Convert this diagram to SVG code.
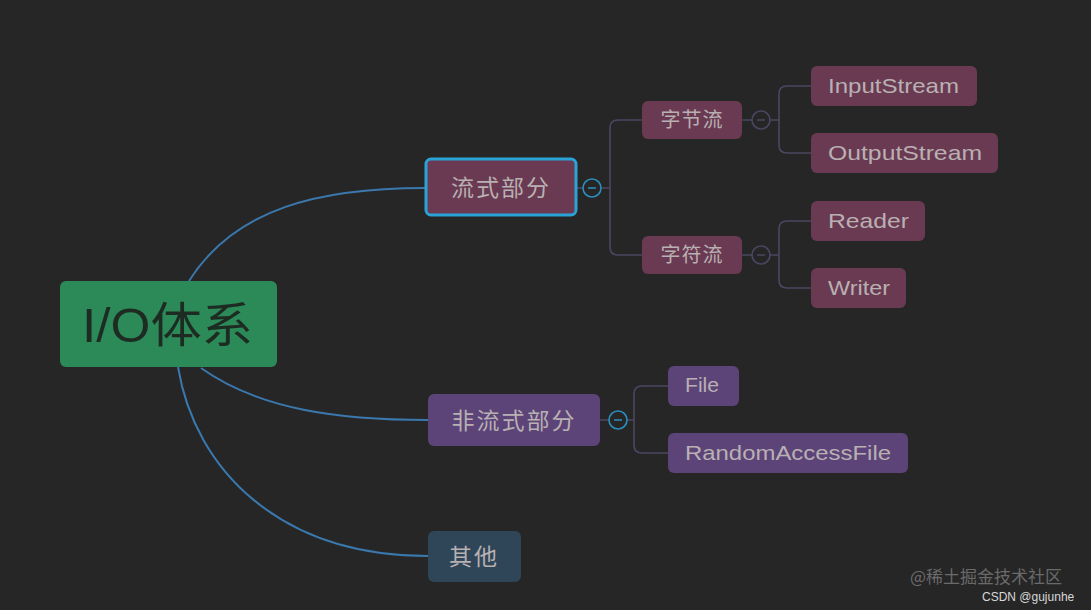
<svg xmlns="http://www.w3.org/2000/svg" width="1091" height="610" viewBox="0 0 1091 610">
<style>
.bg{fill:#262626}
.main{fill:none;stroke:#3a78ad;stroke-width:2}
.sub{fill:none;stroke:#4b4762;stroke-width:1.6}
.cn{font-family:"Noto Sans CJK SC","Noto Sans",sans-serif;fill:#b9b0b2;text-anchor:middle}
.en{font-family:"Liberation Sans","Noto Sans",sans-serif;fill:#b9b0b2;font-size:21px}
.maroon{fill:#6a3a52}
.purple{fill:#5c4479}
.col{fill:#262626;stroke-width:1.6}
</style>
<rect class="bg" x="0" y="0" width="1091" height="610"/>
<g id="connectors">
<path class="main" d="M189,281 C235,208 320,188 425,188"/>
<path class="main" d="M201,368 C260,410 340,420 428,420"/>
<path class="main" d="M178,367 C195,470 280,556 428,556"/>
<path class="sub" d="M576,188 H583"/>
<path class="sub" d="M601,188 H610 M642,120 H618 Q610,120 610,128 V247 Q610,255 618,255 H642"/>
<path class="sub" d="M742,120 H752 M770,120 H779 M811,86 H787 Q779,86 779,94 V145 Q779,153 787,153 H811"/>
<path class="sub" d="M742,255 H752 M770,255 H779 M811,221 H787 Q779,221 779,229 V280 Q779,288 787,288 H811"/>
<path class="sub" d="M600,420 H609 M627,420 H634 M668,386 H642 Q634,386 634,394 V445 Q634,453 642,453 H668"/>
<circle class="col" cx="592" cy="188" r="9" stroke="#2c8fbf"/>
<path d="M588,188 H596" stroke="#2c8fbf" stroke-width="1.5"/>
<circle class="col" cx="761" cy="120" r="9" stroke="#4b4762"/>
<path d="M757,120 H765" stroke="#4b4762" stroke-width="1.5"/>
<circle class="col" cx="761" cy="255" r="9" stroke="#4b4762"/>
<path d="M757,255 H765" stroke="#4b4762" stroke-width="1.5"/>
<circle class="col" cx="618" cy="420" r="9" stroke="#2c8fbf"/>
<path d="M614,420 H622" stroke="#2c8fbf" stroke-width="1.5"/>
</g>
<g id="root">
<rect x="60" y="281" width="217" height="86" rx="6" fill="#2b8a57"/>
<text x="82" y="342" font-family="Liberation Sans,'Noto Sans CJK SC',sans-serif" font-size="48" fill="#1d2b22" textLength="171" lengthAdjust="spacingAndGlyphs">I/O体系</text>
</g>
<g id="n-stream">
<rect class="maroon" x="426" y="159" width="150" height="56" rx="5" stroke="#2aa3d6" stroke-width="3"/>
<text class="cn" x="501" y="196" font-size="23" letter-spacing="2">流式部分</text>
</g>
<g id="n-byte">
<rect class="maroon" x="642" y="101" width="100" height="38" rx="6"/>
<text class="cn" x="692" y="127" font-size="20" letter-spacing="1">字节流</text>
</g>
<g id="n-char">
<rect class="maroon" x="642" y="236" width="100" height="38" rx="6"/>
<text class="cn" x="692" y="262" font-size="20" letter-spacing="1">字符流</text>
</g>
<g id="n-input">
<rect class="maroon" x="811" y="66" width="166" height="40" rx="6"/>
<text class="en" x="828" y="93" textLength="131" lengthAdjust="spacingAndGlyphs">InputStream</text>
</g>
<g id="n-output">
<rect class="maroon" x="811" y="133" width="187" height="40" rx="6"/>
<text class="en" x="828" y="160" textLength="154" lengthAdjust="spacingAndGlyphs">OutputStream</text>
</g>
<g id="n-reader">
<rect class="maroon" x="811" y="201" width="114" height="40" rx="6"/>
<text class="en" x="828" y="228" textLength="81" lengthAdjust="spacingAndGlyphs">Reader</text>
</g>
<g id="n-writer">
<rect class="maroon" x="811" y="268" width="95" height="40" rx="6"/>
<text class="en" x="828" y="295" textLength="62" lengthAdjust="spacingAndGlyphs">Writer</text>
</g>
<g id="n-nonstream">
<rect class="purple" x="428" y="394" width="172" height="52" rx="6"/>
<text class="cn" x="514" y="429" font-size="23" letter-spacing="2">非流式部分</text>
</g>
<g id="n-file">
<rect class="purple" x="668" y="366" width="71" height="40" rx="6"/>
<text class="en" x="685" y="392" textLength="34" lengthAdjust="spacingAndGlyphs">File</text>
</g>
<g id="n-raf">
<rect class="purple" x="668" y="433" width="240" height="40" rx="6"/>
<text class="en" x="685" y="460" textLength="206" lengthAdjust="spacingAndGlyphs">RandomAccessFile</text>
</g>
<g id="n-other">
<rect x="428" y="531" width="93" height="51" rx="6" fill="#2f4659"/>
<text class="cn" x="474" y="565" font-size="23" letter-spacing="2">其他</text>
</g>
<g id="watermark">
<text x="910" y="583" font-family="'Noto Sans CJK SC',sans-serif" font-size="17" fill="#6a6a6a">@稀土掘金技术社区</text>
<text x="982" y="601" font-family="Liberation Sans,sans-serif" font-size="12" fill="#d8d8d8">CSDN @gujunhe</text>
</g>
</svg>
